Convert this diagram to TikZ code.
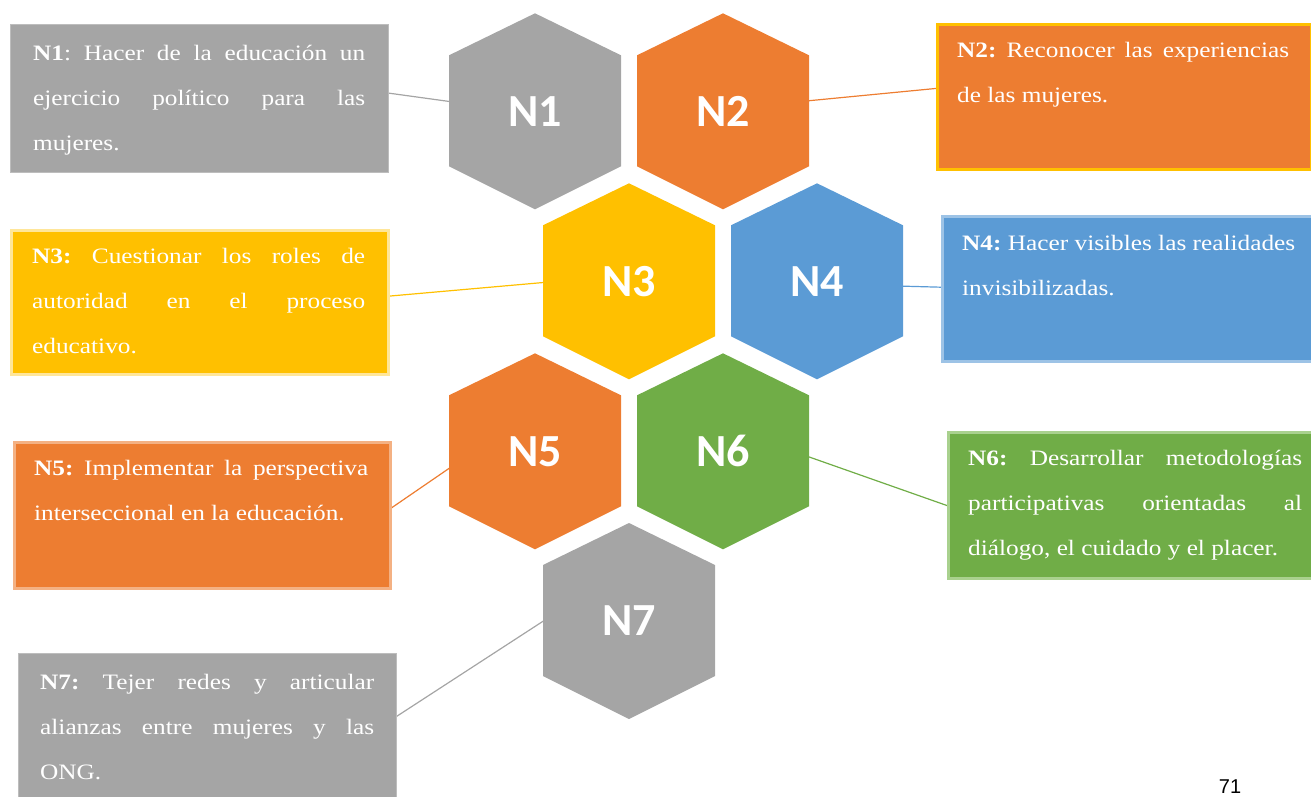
\documentclass[tikz,border=0pt]{standalone}
\usepackage{fontspec}
\setmainfont{Liberation Serif}[FakeStretch=1.15]
\newfontfamily\hexfont{Carlito}
\newfontfamily\pgfont{Liberation Sans}
\usetikzlibrary{calc,backgrounds}
\frenchspacing
\definecolor{cgray}{HTML}{A5A5A5}
\definecolor{corange}{HTML}{ED7D31}
\definecolor{cyellow}{HTML}{FFC000}
\definecolor{cblue}{HTML}{5B9BD5}
\definecolor{cgreen}{HTML}{70AD47}
\definecolor{bgray}{HTML}{BDBDBD}
\definecolor{byellow}{HTML}{FFE699}
\definecolor{bblue}{HTML}{9DC3E6}
\definecolor{borange}{HTML}{F4B183}
\definecolor{bgreen}{HTML}{A9D18E}
\newcommand\hexpoly[2]{%
  \fill[#2] ($(#1)+(0,-98)$) -- ($(#1)+(86,-56)$) -- ($(#1)+(86,55)$) --
    ($(#1)+(0,98)$) -- ($(#1)+(-86,55)$) -- ($(#1)+(-86,-56)$) -- cycle;}
\newcommand\jl[2]{\makebox[#1][s]{#2}}
\begin{document}
\frenchspacing
\begin{tikzpicture}[x=1pt,y=-1pt,
  box/.style={anchor=north west, inner sep=0pt, line width=2.5pt},
  txt/.style={anchor=base west, inner sep=0pt, text=white,
    font=\frenchspacing\fontsize{22pt}{45pt}\selectfont},
  hexlabel/.style={text=white, inner sep=0pt,
    font=\hexfont\bfseries\fontsize{46pt}{46pt}\selectfont},
  conn/.style={line width=1.2pt}]
\useasboundingbox (0,0) rectangle (1311,796);
\clip (0,0) rectangle (1311,796);

% text boxes
\node[box, fill=cgray, draw=bgray, line width=1.2pt, minimum width=378pt, minimum height=148pt] (b1) at (10,24) {};
\node[box, fill=corange, draw=cyellow, minimum width=374pt, minimum height=145pt] (b2) at (936,23) {};
\node[box, fill=cyellow, draw=byellow, minimum width=377pt, minimum height=144pt] (b3) at (10,229) {};
\node[box, fill=cblue, draw=bblue, minimum width=372pt, minimum height=145pt] (b4) at (941,215) {};
\node[box, fill=corange, draw=borange, minimum width=376pt, minimum height=146pt] (b5) at (13,441) {};
\node[box, fill=cgreen, draw=bgreen, minimum width=366pt, minimum height=146pt] (b6) at (947,431) {};
\node[box, fill=cgray, draw=bgray, line width=1.2pt, minimum width=378pt, minimum height=147pt] (b7) at (18,653) {};

% texts
\node[txt] (t1) at (33,60) {\parbox[t]{332pt}{\jl{332pt}{\textbf{N1}: Hacer de la educación un}\\\jl{332pt}{ejercicio político para las}\\mujeres.}};
\node[txt] (t2) at (957,57) {\parbox[t]{332pt}{\jl{332pt}{\textbf{N2:} Reconocer las experiencias}\\de las mujeres.}};
\node[txt] (t3) at (32,263) {\parbox[t]{333pt}{\jl{333pt}{\textbf{N3:} Cuestionar los roles de}\\\jl{333pt}{autoridad en el proceso}\\educativo.}};
\node[txt] (t4) at (962,250) {\parbox[t]{333pt}{\jl{333pt}{\textbf{N4:} Hacer visibles las realidades}\\invisibilizadas.}};
\node[txt] (t5) at (34,475) {\parbox[t]{334pt}{\jl{334pt}{\textbf{N5:} Implementar la perspectiva}\\interseccional en la educación.}};
\node[txt] (t6) at (968,465) {\parbox[t]{334pt}{\jl{334pt}{\textbf{N6:} Desarrollar metodologías}\\\jl{334pt}{participativas orientadas al}\\diálogo, el cuidado y el placer.}};
\node[txt] (t7) at (40,689) {\parbox[t]{334pt}{\jl{334pt}{\textbf{N7:} Tejer redes y articular}\\\jl{334pt}{alianzas entre mujeres y las}\\ONG.}};

% hexagons
\coordinate (c1) at (535,111.3);
\coordinate (c2) at (723,111.3);
\coordinate (c3) at (629,281.3);
\coordinate (c4) at (817,281.3);
\coordinate (c5) at (535,451.3);
\coordinate (c6) at (723,451.3);
\coordinate (c7) at (629,621);
\hexpoly{c1}{cgray}
\hexpoly{c2}{corange}
\hexpoly{c3}{cyellow}
\hexpoly{c4}{cblue}
\hexpoly{c5}{corange}
\hexpoly{c6}{cgreen}
\hexpoly{c7}{cgray}
\node[hexlabel] (h1) at (c1) {N1};
\node[hexlabel] (h2) at (c2) {N2};
\node[hexlabel] (h3) at (c3) {N3};
\node[hexlabel] (h4) at (c4) {N4};
\node[hexlabel] (h5) at (c5) {N5};
\node[hexlabel] (h6) at (c6) {N6};
\node[hexlabel] (h7) at (c7) {N7};

% connectors
\begin{pgfonlayer}{background}
\draw[conn, cgray] ($(b1.east)+(-26,-9)$) -- ($(h1)+(-58,-6)$);
\draw[conn, corange] ($(h2)+(80,-10)$) -- ($(b2.west)+(2,-8.5)$);
\draw[conn, cyellow] ($(b3.east)+(-2,-6)$) -- ($(h3)+(-80,0.7)$);
\draw[conn, cblue] ($(h4)+(80,4.7)$) -- ($(b4.west)+(2,-1.5)$);
\draw[conn, corange] ($(b5.east)+(-2,-6)$) -- ($(h5)+(-80,13)$);
\draw[conn, cgreen] ($(h6)+(80,3.5)$) -- ($(b6.west)+(2,1)$);
\draw[conn, cgray] ($(b7.east)+(-4,-8.5)$) -- ($(h7)+(-81,-3)$);
\end{pgfonlayer}

% page number
\node[anchor=base, inner sep=0pt, font=\pgfont\fontsize{20pt}{20pt}\selectfont] (pg) at (1230,793) {71};
\end{tikzpicture}
\end{document}
